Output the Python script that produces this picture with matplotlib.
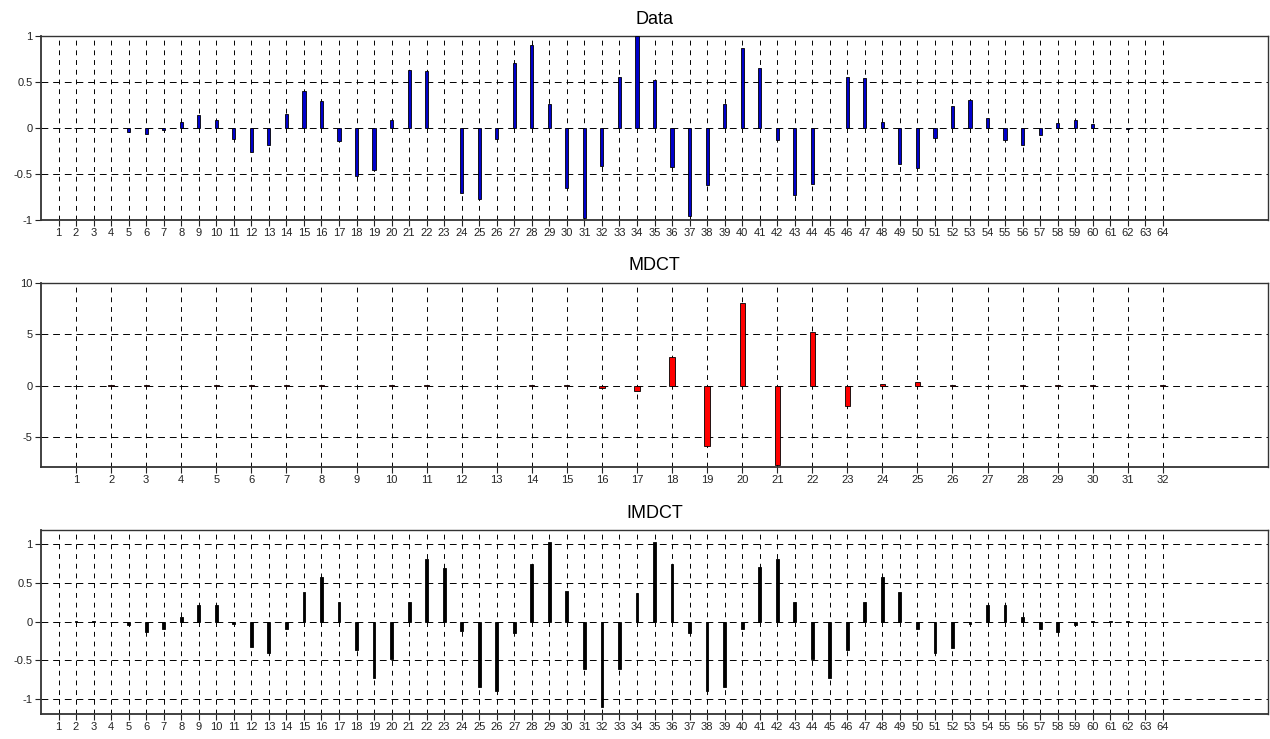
import matplotlib
matplotlib.use("Agg")
import matplotlib.pyplot as plt
import numpy as np

plt.rcParams['font.family'] = ['Liberation Sans', 'DejaVu Sans']

data_values = [0.0, 0.0, -0.005, 0.0, -0.04, -0.06, -0.025, 0.07, 0.14, 0.09,
               -0.12, -0.26, -0.18, 0.15, 0.40, 0.29, -0.14, -0.52, -0.46, 0.09,
               0.63, 0.62, 0.0, -0.71, -0.77, -0.12, 0.71, 0.90, 0.26, -0.65,
               -0.98, -0.41, 0.55, 1.0, 0.52, -0.42, -0.96, -0.62, 0.26, 0.87,
               0.65, -0.13, -0.73, -0.61, 0.0, 0.55, 0.54, 0.07, -0.39, -0.43,
               -0.11, 0.24, 0.30, 0.11, -0.13, -0.185, -0.08, 0.05, 0.087, 0.04,
               0.005, -0.01, 0.0, 0.0]

mdct_values = [0.02, 0.03, 0.08, 0.02, 0.03, 0.06, 0.06, 0.03, 0.02, 0.06,
               0.08, 0.02, 0.02, 0.08, 0.12, -0.2, -0.5, 2.8, -5.85, 8.1,
               -7.7, 5.2, -2.0, 0.2, 0.35, 0.05, 0.02, 0.1, 0.08, 0.03,
               0.02, 0.08]

imdct_values = [0.0, 0.01, 0.008, 0.0, -0.05, -0.13, -0.10, 0.06, 0.22, 0.22,
                -0.03, -0.33, -0.40, -0.095, 0.38, 0.57, 0.25, -0.36, -0.73, -0.48,
                0.25, 0.81, 0.69, -0.12, -0.84, -0.89, -0.15, 0.74, 1.02, 0.39,
                -0.61, -1.10, -0.61, 0.37, 1.02, 0.74, -0.15, -0.89, -0.84, -0.095,
                0.70, 0.81, 0.25, -0.48, -0.73, -0.36, 0.25, 0.57, 0.38, -0.095,
                -0.40, -0.34, -0.03, 0.22, 0.22, 0.06, -0.10, -0.13, -0.05, 0.01,
                0.005, 0.005, 0.0, 0.0]

titles = ["Data", "MDCT", "IMDCT"]
data_yticks = [-1, -0.5, 0, 0.5, 1]
data_ylabels = ["-1", "-0.5", "0", "0.5", "1"]
mdct_yticks = [-5, 0, 5, 10]
mdct_ylabels = ["-5", "0", "5", "10"]

fig = plt.figure(figsize=(12.7, 7.39), dpi=100)

W = 1270.0
H = 739.0
left = 41 / W
width = (1268 - 41) / W
panels = [(36, 220), (283, 467), (530, 714)]

def style(ax, n, xlim, ylim, yticks, ylabels, title):
    ax.set_xlim(*xlim)
    ax.set_ylim(*ylim)
    ax.set_xticks(np.arange(1, n + 1))
    ax.set_xticklabels([str(i) for i in range(1, n + 1)])
    ax.set_yticks(yticks)
    ax.set_yticklabels(ylabels)
    ax.tick_params(axis='both', direction='out', length=4, width=0.8,
                   labelsize=8, colors='#222222', pad=2)
    ax.xaxis.grid(True, color='black', linewidth=0.7, linestyle=(0, (5, 5)))
    ax.yaxis.grid(True, color='black', linewidth=0.7, linestyle=(0, (7, 5)))
    ax.set_axisbelow(True)
    for s in ax.spines.values():
        s.set_color('#333333')
        s.set_linewidth(1.0)
    ax.spines['left'].set_linewidth(1.3)
    ax.spines['bottom'].set_linewidth(1.3)
    ax.set_title(title, fontsize=13, pad=9)

axes = []
for (top, bot) in panels:
    ax = fig.add_axes([left, 1 - bot / H, width, (bot - top) / H])
    axes.append(ax)

x64 = np.arange(1, 65)
x32 = np.arange(1, 33)

axes[0].bar(x64, data_values, width=0.18, color='#0000cc', edgecolor='black', linewidth=0.6, zorder=3)
style(axes[0], 64, (0, 70), (-1, 1), data_yticks, data_ylabels, titles[0])

axes[1].bar(x32, mdct_values, width=0.15, color='#ff0000', edgecolor='black', linewidth=0.6, zorder=3)
style(axes[1], 32, (0, 35), (-7.9, 10), mdct_yticks, mdct_ylabels, titles[1])

axes[2].bar(x64, imdct_values, width=0.16, color='black', edgecolor='black', linewidth=0.6, zorder=3)
style(axes[2], 64, (0, 70), (-1.19, 1.18), data_yticks, data_ylabels, titles[2])

fig.savefig("out.png", dpi=100)
